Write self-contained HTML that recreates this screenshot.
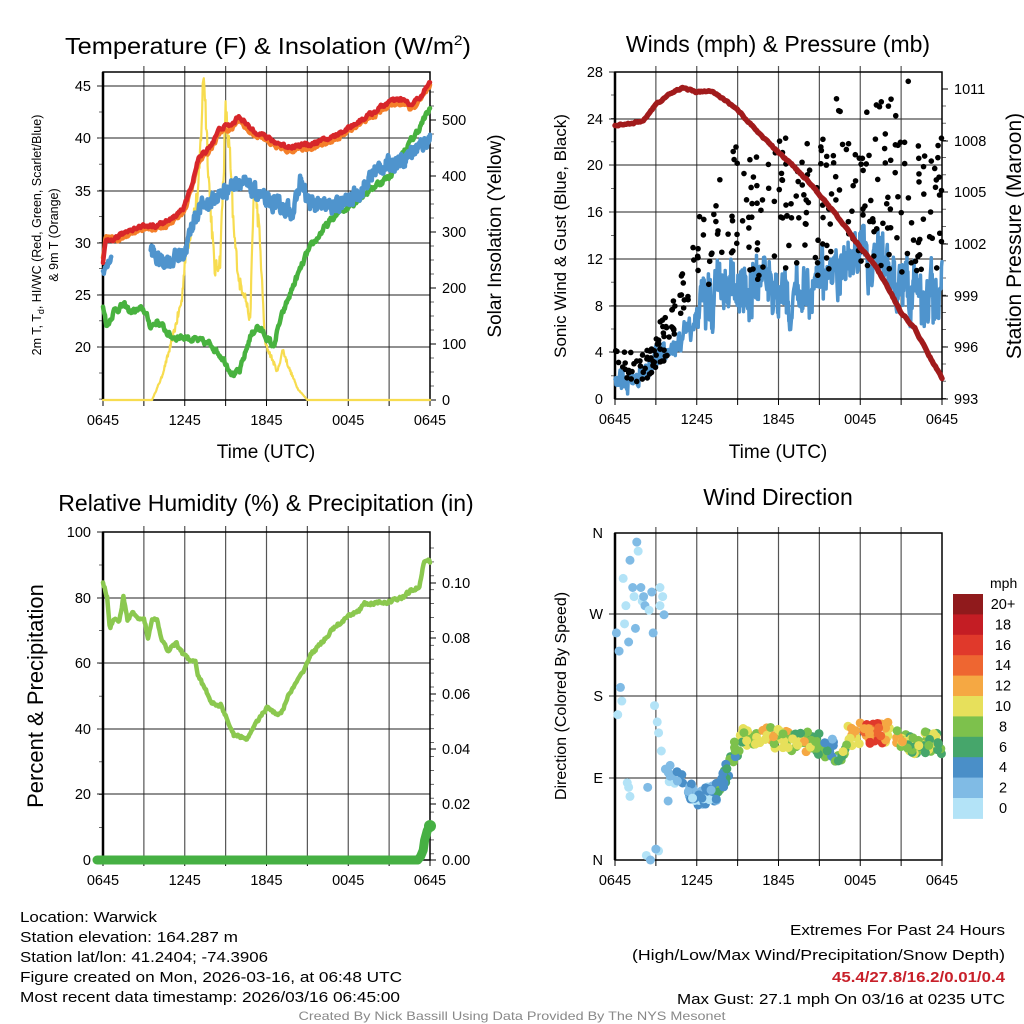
<!DOCTYPE html>
<html><head><meta charset="utf-8"><style>
html,body{margin:0;padding:0;background:#fff;}
svg{display:block;font-family:"Liberation Sans",Arial,sans-serif;}
</style></head><body>
<svg id="s" width="1024" height="1024" viewBox="0 0 1024 1024" xmlns="http://www.w3.org/2000/svg">
<rect width="1024" height="1024" fill="#fff"/>
<g id="g"></g>
<!-- titles -->
<text x="268" y="54" font-size="23" text-anchor="middle" textLength="406" lengthAdjust="spacingAndGlyphs">Temperature (F) &amp; Insolation (W/m<tspan dy="-9" font-size="14">2</tspan><tspan dy="9">)</tspan></text>
<text x="778" y="52" font-size="23" text-anchor="middle">Winds (mph) &amp; Pressure (mb)</text>
<text x="266" y="511" font-size="23" text-anchor="middle">Relative Humidity (%) &amp; Precipitation (in)</text>
<text x="778" y="505" font-size="23" text-anchor="middle">Wind Direction</text>
<!-- axis titles -->
<text x="266" y="458" font-size="19" text-anchor="middle">Time (UTC)</text>
<text x="778" y="458" font-size="19" text-anchor="middle">Time (UTC)</text>
<text transform="translate(41,235) rotate(-90)" font-size="12.5" text-anchor="middle">2m T, T<tspan font-size="9" dy="3">d</tspan><tspan dy="-3">, HI/WC (Red, Green, Scarlet/Blue)</tspan></text>
<text transform="translate(58,235) rotate(-90)" font-size="12.5" text-anchor="middle">&amp; 9m T (Orange)</text>
<text transform="translate(501,236) rotate(-90)" font-size="19" text-anchor="middle">Solar Insolation (Yellow)</text>
<text transform="translate(566,236) rotate(-90)" font-size="17" text-anchor="middle">Sonic Wind &amp; Gust (Blue, Black)</text>
<text transform="translate(1021,236) rotate(-90)" font-size="21" text-anchor="middle">Station Pressure (Maroon)</text>
<text transform="translate(43,696) rotate(-90)" font-size="22" text-anchor="middle">Percent &amp; Precipitation</text>
<text transform="translate(566,696) rotate(-90)" font-size="16" text-anchor="middle">Direction (Colored By Speed)</text>
<!-- footer -->
<g font-size="15">
<text x="20" y="922" textLength="137" lengthAdjust="spacingAndGlyphs">Location: Warwick</text>
<text x="20" y="942" textLength="218" lengthAdjust="spacingAndGlyphs">Station elevation: 164.287 m</text>
<text x="20" y="962" textLength="248" lengthAdjust="spacingAndGlyphs">Station lat/lon: 41.2404; -74.3906</text>
<text x="20" y="982" textLength="382" lengthAdjust="spacingAndGlyphs">Figure created on Mon, 2026-03-16, at 06:48 UTC</text>
<text x="20" y="1002" textLength="380" lengthAdjust="spacingAndGlyphs">Most recent data timestamp: 2026/03/16 06:45:00</text>
<text x="1005" y="935" text-anchor="end" textLength="215" lengthAdjust="spacingAndGlyphs">Extremes For Past 24 Hours</text>
<text x="1005" y="960" text-anchor="end" textLength="373" lengthAdjust="spacingAndGlyphs">(High/Low/Max Wind/Precipitation/Snow Depth)</text>
<text x="1005" y="982" text-anchor="end" fill="#c8202a" font-weight="bold" textLength="173" lengthAdjust="spacingAndGlyphs">45.4/27.8/16.2/0.01/0.4</text>
<text x="1005" y="1004" text-anchor="end" textLength="328" lengthAdjust="spacingAndGlyphs">Max Gust: 27.1 mph On 03/16 at 0235 UTC</text>
</g>
<text x="512" y="1020" font-size="12" fill="#888" text-anchor="middle" textLength="427" lengthAdjust="spacingAndGlyphs">Created By Nick Bassill Using Data Provided By The NYS Mesonet</text>
</svg>
<script>
(function(){
var NS="http://www.w3.org/2000/svg",G=document.getElementById("g");
function el(n,a,p){var e=document.createElementNS(NS,n);for(var k in a)e.setAttribute(k,a[k]);(p||G).appendChild(e);return e;}
var seed=12345;function rnd(){seed=(seed*16807)%2147483647;return (seed-1)/2147483646;}
function interp(kp,t){for(var i=0;i<kp.length-1;i++){if(t<=kp[i+1][0]){var a=kp[i],b=kp[i+1],f=(t-a[0])/(b[0]-a[0]||1);return a[1]+(b[1]-a[1])*f;}}return kp[kp.length-1][1];}
function series(kp,t0,t1,n,noise,smooth){var out=[],v=0;for(var i=0;i<=n;i++){var t=t0+(t1-t0)*i/n;v=v*smooth+(rnd()-0.5)*noise;out.push([t,interp(kp,t)+v]);}return out;}
function poly(pts,fx,fy,st,w){var d="";pts.forEach(function(p,i){d+=(i?"L":"M")+fx(p[0]).toFixed(1)+" "+fy(p[1]).toFixed(1);});el("path",{d:d,fill:"none",stroke:st,"stroke-width":w,"stroke-linejoin":"round","stroke-linecap":"round"});}
function frame(x0,x1,y0,y1,hl,ylabs,rlabs,minorL,minorR){
  for(var i=1;i<8;i++){var x=x0+(x1-x0)*i/8;el("line",{x1:x,y1:y0-6,x2:x,y2:y1,stroke:"#555","stroke-width":1.2});}
  hl.forEach(function(y){el("line",{x1:x0-6,y1:y,x2:x1,y2:y,stroke:"#222","stroke-width":1});});
  (minorL||[]).forEach(function(y){el("line",{x1:x0-4,y1:y,x2:x0,y2:y,stroke:"#444","stroke-width":0.8});});
  (minorR||[]).forEach(function(y){el("line",{x1:x1,y1:y,x2:x1+4,y2:y,stroke:"#444","stroke-width":0.8});});
  el("rect",{x:x0,y:y0,width:x1-x0,height:y1-y0,fill:"none",stroke:"#000","stroke-width":1.5});
  el("line",{x1:x0,y1:y0,x2:x0,y2:y1,stroke:"#000","stroke-width":2.5});
  var labs=["0645","1245","1845","0045","0645"];
  for(var i=0;i<=8;i++){var x=x0+(x1-x0)*i/8;el("line",{x1:x,y1:y1,x2:x,y2:y1+6,stroke:"#000","stroke-width":1});
    if(i%2==0){var t=el("text",{x:x,y:y1+25,"font-size":14.5,"text-anchor":"middle"});t.textContent=labs[i/2];}}
  ylabs.forEach(function(l){var t=el("text",{x:x0-12,y:l[0]+5,"font-size":14.5,"text-anchor":"end"});t.textContent=l[1];});
  rlabs.forEach(function(l){el("line",{x1:x1,y1:l[0],x2:x1+6,y2:l[0],stroke:"#000","stroke-width":1});var t=el("text",{x:x1+12,y:l[0]+5,"font-size":14.5});t.textContent=l[1];});
}
function rng(a,b,s){var r=[];for(var v=a;v<=b;v+=s)r.push(v);return r;}
/* ---------- Panel 1 ---------- */
var X0=103,X1=430;
var fx1=function(t){return X0+t/24*(X1-X0);},fyT=function(T){return 86+(45-T)*10.45;},fyS=function(S){return 400-S*0.56;};
frame(X0,X1,72,400,[86,138,191,243,295,347],[[86,"45"],[138,"40"],[191,"35"],[243,"30"],[295,"25"],[347,"20"]],[[400,"0"],[344,"100"],[288,"200"],[232,"300"],[176,"400"],[120,"500"]],rng(112,400,26.1),rng(92,400,14));
var sol=[[0,0],[3.6,0],[4.3,40],[5,100],[5.3,130],[5.8,180],[6,250],[6.4,300],[7,370],[7.4,590],[7.8,380],[8.2,230],[8.6,250],[9,510],[9.3,440],[9.6,300],[10,210],[10.4,190],[10.8,140],[11.1,400],[11.5,290],[11.9,100],[12.3,80],[12.8,50],[13.2,90],[13.6,60],[14.3,20],[15,0],[24,0]];
var s=[];for(var i=0;i<=600;i++){var t=24*i/600;var v=interp(sol,t);if(v>5)v+= (rnd()-0.5)*v*0.12;s.push([t,Math.max(v,0)]);}
poly(s,fx1,fyS,"#f7dc4f",2.2);
var green=[[0,24],[0.3,22],[0.8,23.5],[1.5,24],[2,23.4],[3,23.6],[3.5,22],[4,22.5],[5,21],[6,21],[7,20.6],[8,20.2],[8.8,19],[9.5,17.5],[10,17.5],[10.8,21],[11.3,22],[12,21],[12.5,20],[13,22.5],[14,26],[15,29],[16,31],[17,32.5],[18,33.5],[19,34.5],[20,35.5],[21,36.3],[22,38.5],[23,40.5],[24,42.8]];
poly(series(green,0,24,500,0.5,0.6),fx1,fyT,"#48b23f",4.5);
var blue=[[0,27.2],[0.6,28.5]];
poly(series(blue,0,0.6,20,0.6,0.5),fx1,fyT,"#4f94cd",4.5);
var blue2=[[3.5,29.5],[4,28.3],[5,28.3],[6,29],[6.6,32],[7.2,33.5],[8,34],[9,35],[10,36],[11,35],[12,34],[13,33.5],[14,33],[14.5,36],[15,34],[16,33.5],[17,33.5],[18,34],[19,35],[20,37],[21,37.5],[22,38],[23,39],[24,40]];
poly(series(blue2,3.5,24,600,1.3,0.4),fx1,fyT,"#4f94cd",4.5);
var red=[[0,28],[0.2,30],[1,30.5],[2,31.3],[3,31.6],[4,31.7],[5,32.2],[6,33.5],[6.5,35.5],[7,38],[8,39.5],[8.6,41],[9.5,41.3],[10,42.2],[10.7,41],[11.5,40.5],[12.5,39.7],[13.5,39.2],[15,39.4],[16,39.7],[17,40.2],[18,41],[19,41.8],[20,42.6],[21,43.5],[22,43.7],[22.6,43.1],[23.3,44],[24,45.3]];
poly(series(red.map(function(p){return [p[0],p[1]-0.35];}).map(function(p,i){return i<2?[p[0],p[1]+1]:p;}),0,24,400,0.35,0.5),fx1,fyT,"#f47f2a",4.5);
poly(series(red,0,24,400,0.35,0.5),fx1,fyT,"#d7262a",4.5);
/* ---------- Panel 2 ---------- */
var P0=615,P1=942;
var fx2=function(t){return P0+t/24*(P1-P0);},fyW=function(w){return 399-w*11.68;},fyP=function(p){return 89+(1011-p)*17.22;};
frame(P0,P1,72,399,[72,119,165,212,259,306,352],[[72,"28"],[119,"24"],[165,"20"],[212,"16"],[259,"12"],[306,"8"],[352,"4"],[399,"0"]],[],rng(95,399,23.4),rng(106,399,17.2));
[[89,"1011"],[141,"1008"],[192,"1005"],[244,"1002"],[296,"999"],[347,"996"],[399,"993"]].forEach(function(l){el("line",{x1:P1,y1:l[0],x2:P1+6,y2:l[0],stroke:"#000"});var t=el("text",{x:P1+12,y:l[0]+5,"font-size":14.5});t.textContent=l[1];});
var wind=[[0,2],[1,1.5],[2,2],[3,3.5],[4,4],[5,5.5],[6,7],[7,8.5],[8,10],[9,9.5],[10,9.5],[11,9],[12,9.5],[13,9],[14,8],[15,10],[16,10],[17,12],[18,12],[19,12],[20,11],[21,10],[22,9],[23,8.5],[24,9.5]];
var ws=[],wv=0;for(var i=0;i<=700;i++){var t=24*i/700;var amp=t<6?1.4:3.4;wv=wv*0.6+(rnd()-0.5)*amp;ws.push([t,Math.max(0,interp(wind,t)+wv+(rnd()-0.5)*amp*0.5)]);}
poly(ws,fx2,fyW,"#4f94cd",3.5);
var gust=[[0,3],[2,2.5],[3,4],[4,6],[5,9],[6,12],[7,14],[8,16],[13,16.5],[24,17]];
for(var i=0;i<300;i++){var t=rnd()*24;var base=interp(gust,t);var spread=t<3?1.3:(t<6?2:(t<8?4:6));var g=base+(rnd()-0.5)*2*spread;if(t>16&&t<22&&rnd()<0.35)g+=5;el("circle",{cx:fx2(t),cy:fyW(Math.max(1.5,Math.min(27.2,g))),r:2.8,fill:"#000"});}
var pres=[[0,1008.9],[1,1009],[2,1009.1],[3,1010.1],[4,1010.7],[5,1011.1],[6,1010.8],[7,1010.9],[8,1010.4],[9,1009.8],[10,1008.9],[11,1008.1],[12,1007.3],[13,1006.6],[14,1005.8],[15,1004.9],[16,1003.9],[17,1002.9],[18,1001.8],[19,1000.9],[20,999.5],[21,998],[22,997.1],[23,995.6],[24,994.2]];
poly(series(pres,0,24,300,0.08,0.5),fx2,fyP,"#a11b1c",5.5);
/* ---------- Panel 3 ---------- */
var fyR=function(r){return 860-r*3.28;};
frame(X0,X1,532,860,[532,598,663,729,794],[[532,"100"],[598,"80"],[663,"60"],[729,"40"],[794,"20"],[860,"0"]],[],rng(565,860,32.8),rng(548,860,13.9));
[[583,"0.10"],[638,"0.08"],[694,"0.06"],[749,"0.04"],[804,"0.02"],[860,"0.00"]].forEach(function(l){el("line",{x1:X1,y1:l[0],x2:X1+6,y2:l[0],stroke:"#000"});var t=el("text",{x:X1+12,y:l[0]+5,"font-size":14.5});t.textContent=l[1];});
var rh=[[0,85],[0.3,80],[0.5,70],[0.8,74],[1.2,73],[1.5,80],[1.8,73],[2.2,76],[2.6,73],[3,74],[3.3,68],[3.6,73],[4,73],[4.3,67],[4.7,64],[5.4,66],[6,62],[6.8,60],[7,56],[7.5,52],[8,48],[8.7,47],[9.2,42],[9.6,38],[10.2,37.5],[10.6,37],[11.2,42],[12.1,46.5],[13,44],[13.6,50],[14.5,56],[15.3,63],[16,66],[17,71],[18,74],[18.7,76],[19.2,78],[20,78.2],[21,78.8],[22,80],[22.7,82.5],[23.2,83],[23.6,91.5],[24,91]];
poly(series(rh,0,24,400,1.0,0.4),fx1,fyR,"#8bc84f",4.5);
el("line",{x1:X0-6,y1:860,x2:fx1(23.1),y2:860,stroke:"#46b043","stroke-width":9,"stroke-linecap":"round"});
poly([[23.1,0],[23.3,1],[23.5,3],[23.6,6],[23.8,9],[24,10.5]],fx1,fyR,"#46b043",9);
el("circle",{cx:X1,cy:826,r:6,fill:"#46b043"});
/* ---------- Panel 4 ---------- */
var fyD=function(d){return 860-d/360*327;};
frame(P0,P1,533,860,[614,696,778],[[533,"N"],[614,"W"],[696,"S"],[778,"E"],[860,"N"]],[],[],[]);
var cols=["#b3e3f7","#80bbe5","#4a8fc8","#46a66b","#7dc14c","#e7e05b","#f5a843","#ee6631","#e0392b","#c41d24","#901a1c"];
function cidx(sp){return Math.max(0,Math.min(10,Math.floor(sp/2)));}
var early=[[0.1,250],[0.3,230],[0.4,190],[0.5,175],[0.2,160],[0.6,310],[0.8,280],[1,240],[1.1,330],[1.3,300],[1.4,290],[1.6,350],[1.7,340],[1.9,300],[2,285],[2.2,280],[2.5,275],[2.8,250],[2.9,170],[3.1,152],[3.3,280],[3.5,290],[3.6,270],[0.9,85],[1,80],[1.1,70],[2.3,5],[2.6,0],[3.2,10],[3,12],[3.2,140],[3.4,120],[0.7,260],[1.5,255],[2.1,290],[2.7,295],[3.7,100],[3.9,65],[2.4,80],[3.3,300]];
early.forEach(function(p){var sp=rnd()<0.5?1:3;el("circle",{cx:fx2(p[0]),cy:fyD(p[1]),r:4.5,fill:cols[cidx(sp)]});});
var dir=[[3.5,105],[4,95],[5,85],[6,70],[7,72],[7.5,75],[8,90],[8.5,110],[9,125],[9.5,137],[10,140],[11,135],[12,133],[14,130],[15,128],[16,122],[16.3,110],[16.8,125],[17,135],[18,140],[19,138],[20,140],[21,136],[22,128],[23,130],[24,127]];
var spd=[[3.5,3],[6,3.5],[7,4],[7.5,6],[8.5,7],[9.3,9],[10,11],[11,10],[12,12],[13,9],[14,10],[15,8],[16,5],[17,10],[18,14],[19,14.5],[19.5,16],[20,13],[21,11],[22,9],[23,8],[24,9]];
for(var i=0;i<300;i++){var t=3.5+rnd()*20.5;var d=interp(dir,t)+(rnd()-0.5)*(t<8?20:24);var sp=interp(spd,t)+(rnd()-0.5)*5;if(t<7.5)sp=Math.min(sp,5);
  el("circle",{cx:fx2(t),cy:fyD(d),r:4.5,fill:cols[cidx(sp)]});}
var mt=el("text",{x:990,y:588,"font-size":14,"text-anchor":"start"});mt.textContent="mph";
var labs=["20+","18","16","14","12","10","8","6","4","2","0"];
for(var k=0;k<11;k++){var y=594+k*20.4;el("rect",{x:953,y:y,width:30,height:20.9,fill:cols[10-k]});var t=el("text",{x:1003,y:y+15,"font-size":14.5,"text-anchor":"middle"});t.textContent=labs[k];}
})();
</script>
</body></html>
